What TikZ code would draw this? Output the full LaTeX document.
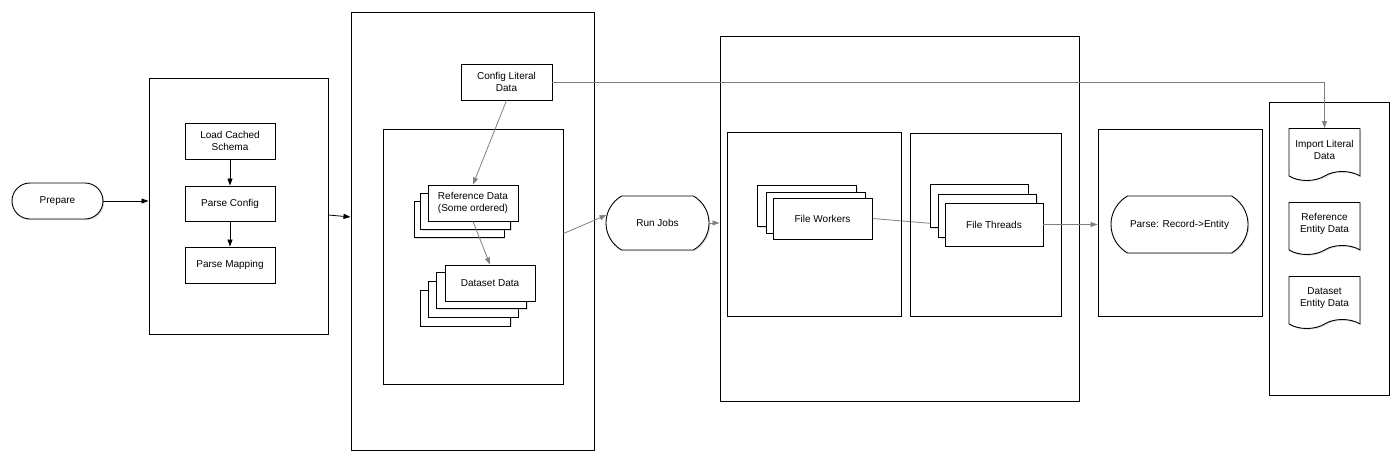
\documentclass[tikz,border=0pt]{standalone}
\usepackage{fontspec}
\setmainfont{Liberation Sans}
\usetikzlibrary{calc,arrows.meta,shapes.misc,shapes.symbols,backgrounds,shadows}

\begin{document}
\begin{tikzpicture}[x=1pt, y=-1pt,
  font=\fontsize{10}{12.5}\selectfont,
  outerbox/.style={draw, line width=1pt, inner sep=0pt},
  task/.style={draw, fill=white, line width=0.9pt, align=center, inner sep=0pt,
    minimum width=90pt, minimum height=36pt,
    drop shadow={shadow xshift=1.2pt, shadow yshift=-1.2pt, opacity=0.25}},
  term/.style={task, rounded rectangle},
  doc/.style={task, tape, tape bend top=none, tape bend height=9pt, minimum width=71pt, minimum height=52pt},
  flow/.style={-{Triangle[length=7pt,width=5pt]}, line width=0.8pt},
  dataflow/.style={flow, black!50}]
\useasboundingbox (0,0) rectangle (1394,455);

% prepare
\node[term, minimum width=91pt] (prep) at (57.5,201) {Prepare};

% box 1: config
\node[outerbox, minimum width=179pt, minimum height=256pt] (box1) at (238.5,206) {};
\node[task] (lcs) at (230,141) {Load Cached\\Schema};
\node[task, minimum height=35pt] (pcfg) at (230,203.5) {Parse Config};
\node[task] (pmap) at (230,265) {Parse Mapping};

% box 2: load data
\node[outerbox, minimum width=243pt, minimum height=438pt] (box2) at (472.5,231) {};
\node[outerbox, minimum width=180pt, minimum height=255pt] (inner2) at (473,256.5) {};
\node[task, minimum width=91pt] (cfg) at (506.5,82) {Config Literal\\Data};
\foreach \x/\y [count=\i] in {459/219.5,465.5/211.5}
  \node[task] (refb\i) at (\x,\y) {};
\node[task] (ref) at (473,203) {Reference Data\\(Some ordered)};
\foreach \x/\y [count=\i] in {465.5/308,473/299,481.5/290.5}
  \node[task] (dsetb\i) at (\x,\y) {};
\node[task] (dset) at (490,283) {Dataset Data};

% run jobs
\node[term, rounded rectangle arc length=120, minimum width=103pt, minimum height=54pt] (run) at (657.5,223) {Run Jobs};

% box 3: workers and threads
\node[outerbox, minimum width=359pt, minimum height=365pt] (box3) at (899.5,218.5) {};
\node[outerbox, minimum width=174pt, minimum height=184pt] (subA) at (814,224) {};
\node[outerbox, minimum width=151pt, minimum height=183pt] (subB) at (985.5,224.5) {};
\foreach \x/\y [count=\i] in {807/206,815.5/212.5}
  \node[task, minimum width=99pt, minimum height=41pt] (fwb\i) at (\x,\y) {};
\node[task, minimum width=99pt, minimum height=41pt] (fw) at (822.5,218.5) {File Workers};
\foreach \x/\y [count=\i] in {979/206,987.5/216}
  \node[task, minimum width=98pt, minimum height=43pt] (ftb\i) at (\x,\y) {};
\node[task, minimum width=98pt, minimum height=43pt] (ft) at (994,224.5) {File Threads};

% box 4: parse
\node[outerbox, minimum width=164pt, minimum height=187pt] (box4) at (1180,222.5) {};
\node[term, rounded rectangle arc length=120, minimum width=137pt, minimum height=57pt] (parse) at (1179.5,224.5) {Parse: Record->Entity};

% box 5: import
\node[outerbox, minimum width=120pt, minimum height=293pt] (box5) at (1329,248.5) {};
\node[doc] (imp) at (1324.5,150) {Import Literal\\Data};
\node[doc] (rent) at (1324.5,224) {Reference\\Entity Data};
\node[doc] (dent) at (1324.5,298) {Dataset\\Entity Data};

% connectors
\draw[flow] (prep.east) -- (prep.east -| box1.west);
\draw[flow] (lcs) -- (pcfg);
\draw[flow] (pcfg) -- (pmap);
\draw[flow] ($(box1.east)+(0,9)$) -- ($(box2.west)+(0,-14)$);
\draw[dataflow] (cfg.south) -- (ref.north);
\draw[dataflow] (ref.south) -- (dset.north);
\draw[dataflow] ($(inner2.east)+(0,-23)$) -- ($(run.west)+(1,-8)$);
\draw[dataflow] (run.east) -- (run.east -| box3.west);
\begin{scope}[on background layer]
\draw[dataflow] (fw.east) -- (ft.west);
\end{scope}
\draw[dataflow] (ft.east) -- (ft.east -| box4.west);
\draw[dataflow] (cfg.east) -| (imp.north);
\end{tikzpicture}
\end{document}
